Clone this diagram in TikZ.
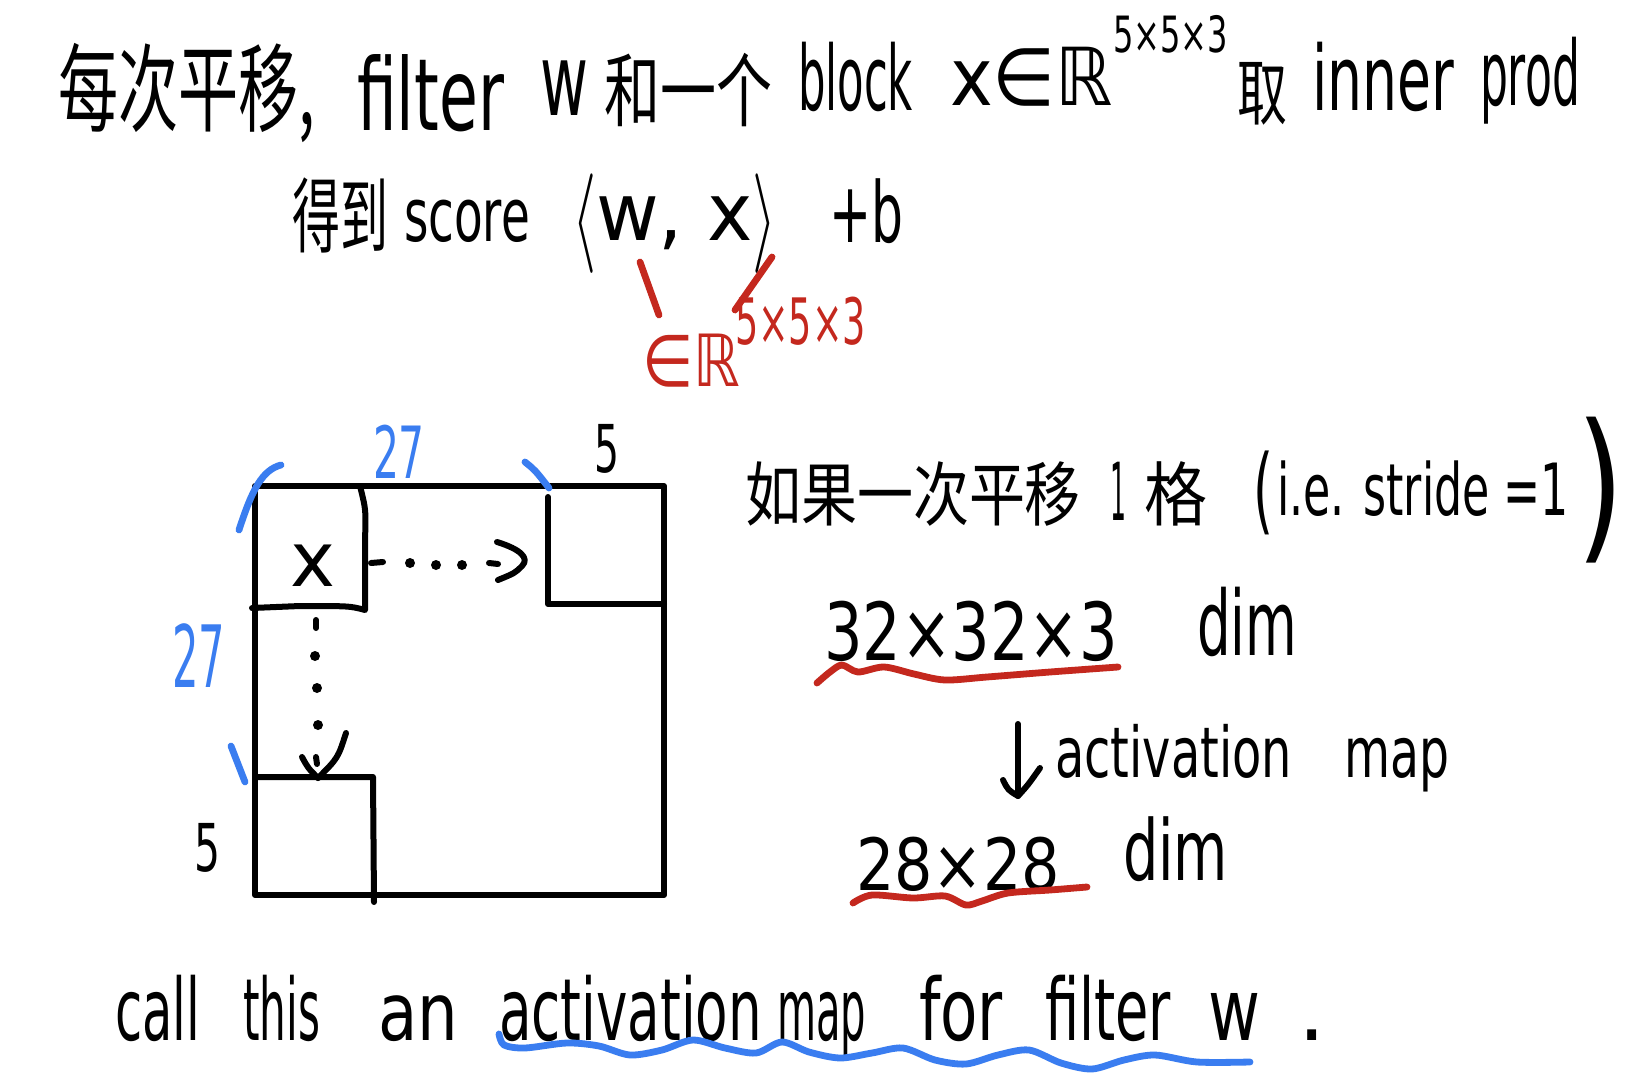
\documentclass[tikz,border=0pt]{standalone}
\usepackage{fontspec}
\usepackage{graphicx}
\setmainfont{DejaVu Sans}
\newfontfamily\cjk{Noto Sans CJK SC}
\newdimen\pxu \pxu=0.5pt
\newcommand\fitw[2]{\resizebox{#1\pxu}{\height}{#2}}
\newcommand\fs[1]{\fontsize{#1pt}{#1pt}\selectfont}
\newcommand\bigang[1]{\raisebox{-0.1em}{\scalebox{1.3}[2.0]{$#1$}}}
\definecolor{inkblue}{RGB}{58,125,240}
\definecolor{inkred}{RGB}{196,40,30}
\tikzset{
  hw/.style={anchor=base west, inner sep=0pt, outer sep=0pt},
  hc/.style={anchor=center, inner sep=0pt, outer sep=0pt},
  ink/.style={line width=3pt, line cap=round, line join=round},
  blueink/.style={ink, draw=inkblue, line width=3.4pt},
  redink/.style={ink, draw=inkred, line width=3.4pt},
  dotp/.style={fill=black}
}
\begin{document}
\begin{tikzpicture}[x=0.5pt,y=-0.5pt]
\useasboundingbox (0,0) rectangle (1646,1088);
\fill[white] (0,0) rectangle (1646,1088);

% ---- line 1
\node[hw, font=\cjk\fs{48}] (l1a) at (58,124) {\fitw{257}{每次平移,}};
\node[hw, font=\fs{50}] (l1b) at (357,130) {\fitw{147}{filter}};
\node[hw, font=\fs{50}] (l1c) at (540,115) {\fitw{48}{w}};
\node[hw, font=\cjk\fs{40}] (l1d) at (604,120) {\fitw{168}{和一个}};
\node[hw, font=\fs{45}] (l1e) at (798,110) {\fitw{115}{block}};
\node[hw, font=\fs{40}] (l1f) at (950,105) {\fitw{163}{x∈ℝ}};
\node[hw, font=\fs{25}] (l1g) at (1113,52) {\fitw{115}{5×5×3}};
\node[hw, font=\cjk\fs{36}] (l1h) at (1237,119) {\fitw{50}{取}};
\node[hw, font=\fs{45}] (l1i) at (1312,110) {\fitw{142}{inner}};
\node[hw, font=\fs{45}] (l1j) at (1480,105) {\fitw{100}{prod}};

% ---- line 2
\node[hw, font=\cjk\fs{41}] (l2a) at (292,246) {\fitw{96}{得到}};
\node[hw, font=\fs{37}] (l2b) at (404,241) {\fitw{126}{score}};
\node[hw, font=\fs{40}] (l2c) at (572,240) {\fitw{205}{\bigang{\langle}w, x\bigang{\rangle}}};
\node[hw, font=\fs{42}] (l2d) at (829,242) {\fitw{74}{+b}};

% red annotation
\coordinate (ra1) at (640,262); \coordinate (ra2) at (659,315);
\coordinate (rb1) at (772,257); \coordinate (rb2) at (735,310);
\draw[redink] (ra1) -- (ra2);
\draw[redink] (rb1) -- (rb2);
\node[hw, font=\fs{36}, text=inkred] (r1) at (642,386) {\fitw{98}{∈ℝ}};
\node[hw, font=\fs{32}, text=inkred] (r2) at (735,344) {\fitw{131}{5×5×3}};

% ---- square diagram
\draw[ink] (255,486) rectangle (664,895);
\draw[ink] (360,486) .. controls (366,510) .. (365,540) -- (365,610)
  .. controls (350,606) .. (300,606) -- (252,608);
\draw[ink] (548,497) -- (548,604) -- (664,604);
\draw[ink] (255,777) -- (373,777) -- (374,902);
\node[hc, font=\fs{38}] (xx) at (313,566) {x};
% right dotted arrow
\draw[ink] (371,563) -- (383,562);
\fill[dotp] (410,563) circle (5) (436,565) circle (5) (462,565) circle (5);
\draw[ink] (489,563) -- (498,564);
\draw[ink] (497,542) .. controls (520,549) and (530,558) .. (522,566) .. controls (515,573) .. (498,580);
% down dotted arrow
\draw[ink] (316,620) -- (316,628);
\fill[dotp] (315,656) circle (5) (317,688) circle (5) (318,725) circle (5);
\draw[ink] (316,757) -- (317,764);
\draw[ink] (302,757) .. controls (308,768) .. (318,778);
\draw[ink] (346,733) .. controls (338,758) .. (318,778);
% labels
\node[hc, font=\fs{36}, text=inkblue] (n27a) at (399,452) {\fitw{52}{27}};
\node[hc, font=\fs{33}] (n5a) at (607,449) {\fitw{25}{5}};
\node[hc, font=\fs{43}, text=inkblue] (n27b) at (199,656) {\fitw{53}{27}};
\node[hc, font=\fs{33}] (n5b) at (207,848) {\fitw{26}{5}};
% blue brace marks
\draw[blueink] (239,530) .. controls (252,490) and (262,470) .. (281,465);
\draw[blueink] (525,462) .. controls (535,470) .. (549,488);
\draw[blueink] (231,746) -- (245,782);

% ---- right text
\node[hw, font=\cjk\fs{35}] (s1) at (745,520) {\fitw{336}{如果一次平移}};
\node[hw, font=\fs{40}] (s2) at (1110,520) {\fitw{16}{1}};
\node[hw, font=\cjk\fs{35}] (s3) at (1144,520) {\fitw{63}{格}};
\node[hc, font=\fs{40}] (s4) at (1263,493) {\resizebox*{10pt}{42pt}{(}};
\node[hw, font=\fs{36}] (s5) at (1277,515) {\fitw{292}{i.e. stride =1}};
\node[hc, font=\fs{40}] (s6) at (1600,490) {\resizebox*{24pt}{73pt}{)}};

\node[hw, font=\fs{40}] (d1) at (824,660) {\fitw{294}{32×32×3}};
\node[hw, font=\fs{45}] (d1b) at (1197,655) {\fitw{100}{dim}};
\draw[redink] plot[smooth] coordinates {(817,683) (830,672) (842,665) (858,672) (884,667) (914,674) (945,680) (987,677) (1050,672) (1118,667)};

\coordinate (ar1) at (1018,724);
\coordinate (ar2) at (1018,796);
\draw[ink] (ar1) -- (ar2);
\draw[ink] (1003,780) .. controls (1008,790) .. (ar2) .. controls (1028,785) .. (1040,768);
\node[hw, font=\fs{35}] (am1) at (1055,777) {\fitw{237}{activation}};
\node[hw, font=\fs{35}] (am2) at (1344,777) {\fitw{105}{map}};

\node[hw, font=\fs{36}] (d2) at (856,890) {\fitw{204}{28×28}};
\node[hw, font=\fs{42}] (d2b) at (1123,880) {\fitw{105}{dim}};
\draw[redink] plot[smooth] coordinates {(853,903) (872,895) (913,898) (945,896) (966,905) (982,901) (1008,893) (1050,890) (1087,887)};

% ---- bottom line
\node[hw, font=\fs{43}] (b1) at (115,1040) {\fitw{85}{call}};
\node[hw, font=\fs{43}] (b2) at (243,1040) {\fitw{77}{this}};
\node[hw, font=\fs{40}] (b3) at (378,1040) {\fitw{80}{an}};
\node[hw, font=\fs{43}] (b4) at (499,1040) {\fitw{263}{activation}};
\node[hw, font=\fs{43}] (b5) at (777,1040) {\fitw{89}{map}};
\node[hw, font=\fs{43}] (b6) at (919,1040) {\fitw{84}{for}};
\node[hw, font=\fs{43}] (b7) at (1045,1040) {\fitw{126}{filter}};
\node[hw, font=\fs{43}] (b8) at (1208,1040) {\fitw{52}{w}};
\node[hw, font=\fs{43}] (b9) at (1298,1040) {.};
\draw[blueink] plot[smooth] coordinates {(499,1034) (504,1045) (525,1048) (567,1043) (599,1046) (630,1055) (662,1050) (693,1040) (725,1048) (756,1053) (782,1042) (809,1052) (840,1058) (872,1053) (903,1048) (935,1060) (966,1064) (998,1055) (1029,1050) (1061,1063) (1092,1069) (1124,1060) (1155,1055) (1197,1062) (1250,1062)};
\end{tikzpicture}
\end{document}
